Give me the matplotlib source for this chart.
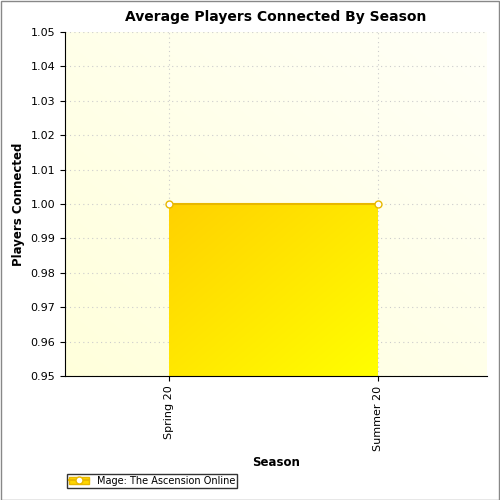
import numpy as np
import matplotlib
matplotlib.use("Agg")
import matplotlib.pyplot as plt
from matplotlib.lines import Line2D
from matplotlib.patches import Patch
from matplotlib.legend_handler import HandlerTuple

categories = ["Spring 20", "Summer 20"]
values = [1.00, 1.00]
series_name = "Mage: The Ascension Online"

fig = plt.figure(figsize=(5, 5), dpi=100)
fig.patch.set_facecolor("white")
fig.add_artist(plt.Rectangle((0.001, 0.001), 0.997, 0.997, fill=False, edgecolor="#888888", lw=1, transform=fig.transFigure))
ax = fig.add_axes([0.13, 0.248, 0.844, 0.688])
x = np.arange(len(categories))
ax.set_xlim(-0.5, 1.52)
ax.set_ylim(0.95, 1.05)

gx, gy = np.meshgrid(np.linspace(0, 1, 200), np.linspace(0, 1, 200))
g = (gx + (1 - gy)) / 2
bg = np.zeros((200, 200, 3))
c1 = np.array([1.0, 1.0, 0.86]); c2 = np.array([1.0, 1.0, 0.97])
for i in range(3):
    bg[..., i] = c1[i] * (1 - g) + c2[i] * g
ax.imshow(bg, extent=(-0.5, 1.52, 0.95, 1.05), origin="upper", aspect="auto", zorder=-1)

poly = ax.fill_between(x, 0.95, values, color="none")
fx, fy = np.meshgrid(np.linspace(0, 1, 200), np.linspace(0, 1, 200))
fg = (fx + fy) / 2
fill = np.zeros((200, 200, 3))
a1 = np.array([1.0, 0.82, 0.0]); a2 = np.array([1.0, 1.0, 0.0])
for i in range(3):
    fill[..., i] = a1[i] * (1 - fg) + a2[i] * fg
im = ax.imshow(fill, extent=(x[0], x[-1], 0.95, max(values)), origin="upper", aspect="auto", zorder=2)
im.set_clip_path(poly.get_paths()[0], transform=ax.transData)
ax.plot(x, values, color="#E8B800", lw=1.5, zorder=3)
ax.plot(x, values, ls="none", marker="o", ms=5, mfc="white", mec="#E8B800", zorder=4)

ax.set_axisbelow(True)
ax.grid(True, color="#cccccc", ls=(0, (1, 3)), lw=0.8)
ax.set_xticks(x)
ax.set_xticklabels(categories, rotation=90, fontsize=8)
ax.set_yticks(np.arange(0.95, 1.0501, 0.01))
ax.set_yticklabels([f"{v:.2f}" for v in np.arange(0.95, 1.0501, 0.01)], fontsize=8)
for s in ["top", "right"]:
    ax.spines[s].set_visible(False)
ax.set_title("Average Players Connected By Season", fontsize=10, fontweight="bold", pad=8)
ax.set_xlabel("Season", fontsize=8.5, fontweight="bold")
ax.set_ylabel("Players Connected", fontsize=8.5, fontweight="bold")

h = (Patch(facecolor="#FFD700", edgecolor="#E8B800"), Line2D([], [], color="#E8B800", marker="o", mfc="white", mec="#E8B800", ms=5))
fig.legend([h], [series_name], loc="lower left", bbox_to_anchor=(0.125, 0.015), fontsize=7,
           frameon=True, fancybox=False, edgecolor="black", borderpad=0.2, handlelength=2,
           handler_map={tuple: HandlerTuple(ndivide=1)})
fig.savefig("out.png", dpi=100)
